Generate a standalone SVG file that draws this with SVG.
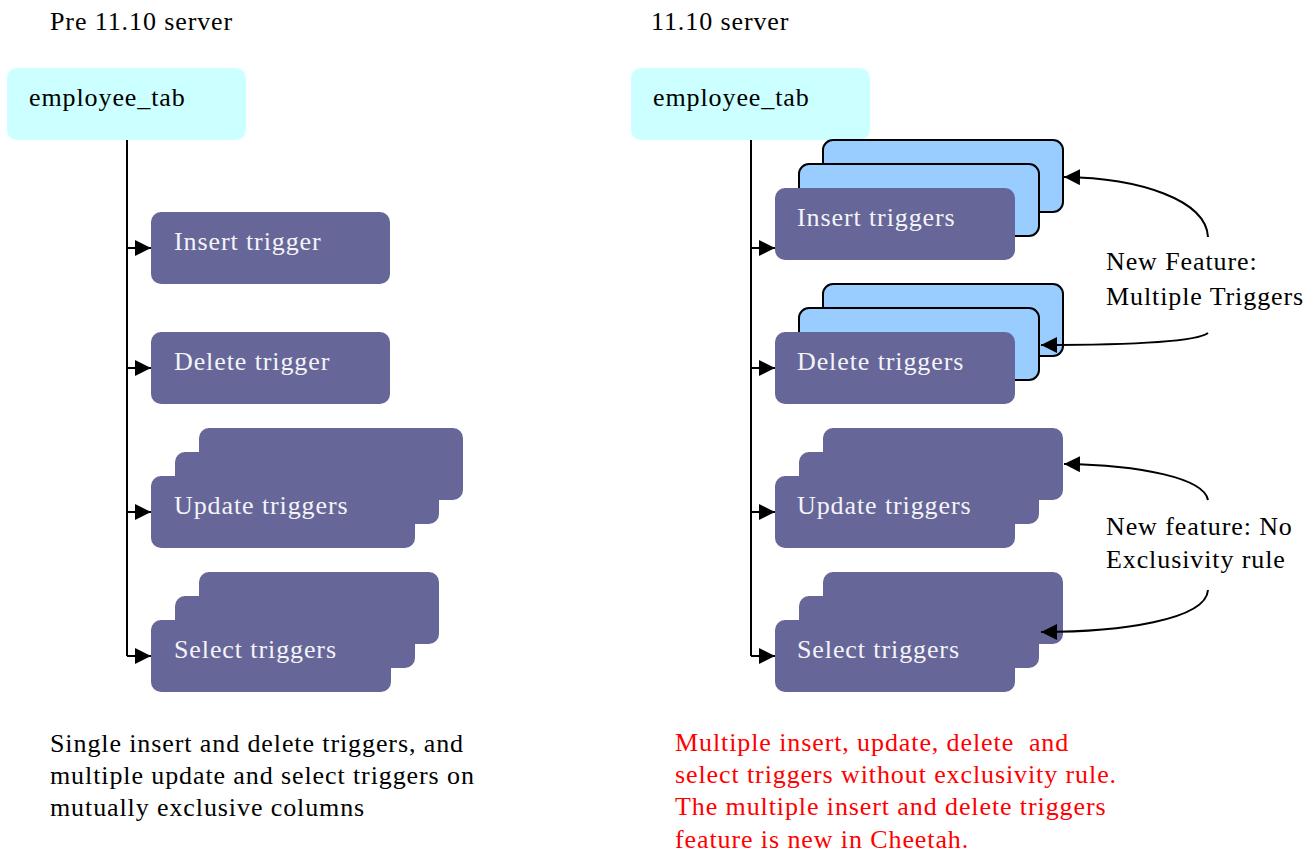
<svg xmlns="http://www.w3.org/2000/svg" width="1310" height="853" viewBox="0 0 1310 853">
<defs>
<marker id="ah" markerUnits="userSpaceOnUse" viewBox="0 0 16 16" markerWidth="16" markerHeight="16" refX="16" refY="8" orient="auto">
<path d="M0,0 L16,8 L0,16 z" fill="#000"/>
</marker>
<style>
text{font-family:"Liberation Serif","Times New Roman",serif;font-size:26px;letter-spacing:0.9px;fill:#000}
.tab{fill:#CCFFFF}
.trig{fill:#666699}
.blue{fill:#99CCFF;stroke:#000;stroke-width:2}
.wt{fill:#F4F4F8}
.red{fill:#FF0000;white-space:pre}
.ln{fill:none;stroke:#000;stroke-width:2}
</style>
</defs>
<rect width="1310" height="853" fill="#fff"/>

<text x="50" y="30">Pre 11.10 server</text>
<text x="651" y="30">11.10 server</text>

<g id="left-employee_tab">
<rect class="tab" x="7" y="68" width="239" height="72" rx="10"/>
<text x="29" y="106">employee_tab</text>
</g>
<g id="left-insert">
<rect class="trig" x="151" y="212" width="239" height="72" rx="10"/>
<text class="wt" x="174" y="250">Insert trigger</text>
</g>
<g id="left-delete">
<rect class="trig" x="151" y="332" width="239" height="72" rx="10"/>
<text class="wt" x="174" y="370">Delete trigger</text>
</g>
<g id="left-update">
<rect class="trig" x="199" y="428" width="264" height="72" rx="10"/>
<rect class="trig" x="175" y="452" width="264" height="72" rx="10"/>
<rect class="trig" x="151" y="476" width="264" height="72" rx="10"/>
<text class="wt" x="174" y="514">Update triggers</text>
</g>
<g id="left-select">
<rect class="trig" x="199" y="572" width="240" height="72" rx="10"/>
<rect class="trig" x="175" y="596" width="240" height="72" rx="10"/>
<rect class="trig" x="151" y="620" width="240" height="72" rx="10"/>
<text class="wt" x="174" y="658">Select triggers</text>
</g>

<g id="right-employee_tab">
<rect class="tab" x="631" y="68" width="239" height="72" rx="10"/>
<text x="653" y="106">employee_tab</text>
</g>
<g id="right-insert">
<rect class="blue" x="823" y="140" width="240" height="72" rx="10"/>
<rect class="blue" x="799" y="164" width="240" height="72" rx="10"/>
<rect class="trig" x="775" y="188" width="240" height="72" rx="10"/>
<text class="wt" x="797" y="226">Insert triggers</text>
</g>
<g id="right-delete">
<rect class="blue" x="823" y="284" width="240" height="72" rx="10"/>
<rect class="blue" x="799" y="308" width="240" height="72" rx="10"/>
<rect class="trig" x="775" y="332" width="240" height="72" rx="10"/>
<text class="wt" x="797" y="370">Delete triggers</text>
</g>
<g id="right-update">
<rect class="trig" x="823" y="428" width="240" height="72" rx="10"/>
<rect class="trig" x="799" y="452" width="240" height="72" rx="10"/>
<rect class="trig" x="775" y="476" width="240" height="72" rx="10"/>
<text class="wt" x="797" y="514">Update triggers</text>
</g>
<g id="right-select">
<rect class="trig" x="823" y="572" width="240" height="72" rx="10"/>
<rect class="trig" x="799" y="596" width="240" height="72" rx="10"/>
<rect class="trig" x="775" y="620" width="240" height="72" rx="10"/>
<text class="wt" x="797" y="658">Select triggers</text>
</g>

<g id="label-multiple">
<text x="1106" y="270">New Feature:</text>
<text x="1106" y="305">Multiple Triggers</text>
</g>
<g id="label-exclusivity">
<text x="1106" y="535">New feature: No</text>
<text x="1106" y="568">Exclusivity rule</text>
</g>

<g id="note-left">
<text x="50" y="752">Single insert and delete triggers, and</text>
<text x="50" y="784">multiple update and select triggers on</text>
<text x="50" y="816">mutually exclusive columns</text>
</g>
<g id="note-right">
<text class="red" x="675" y="751">Multiple insert, update, delete  and</text>
<text class="red" x="675" y="783">select triggers without exclusivity rule.</text>
<text class="red" x="675" y="815">The multiple insert and delete triggers</text>
<text class="red" x="675" y="848">feature is new in Cheetah.</text>
</g>

<g id="connectors">
<path class="ln" d="M127,140 V656"/>
<path class="ln" d="M127,248 H151" marker-end="url(#ah)"/>
<path class="ln" d="M127,368 H151" marker-end="url(#ah)"/>
<path class="ln" d="M127,512 H151" marker-end="url(#ah)"/>
<path class="ln" d="M127,656 H151" marker-end="url(#ah)"/>
<path class="ln" d="M751,140 V656"/>
<path class="ln" d="M751,248 H775" marker-end="url(#ah)"/>
<path class="ln" d="M751,368 H775" marker-end="url(#ah)"/>
<path class="ln" d="M751,512 H775" marker-end="url(#ah)"/>
<path class="ln" d="M751,656 H775" marker-end="url(#ah)"/>
<path class="ln" d="M1208,237 C1206,200 1140,178 1064,177" marker-end="url(#ah)"/>
<path class="ln" d="M1208,333 C1196,342 1130,345 1041,345" marker-end="url(#ah)"/>
<path class="ln" d="M1208,500 C1204,478 1140,465 1064,464" marker-end="url(#ah)"/>
<path class="ln" d="M1208,590 C1206,620 1120,632 1041,632" marker-end="url(#ah)"/>
</g>
</svg>
